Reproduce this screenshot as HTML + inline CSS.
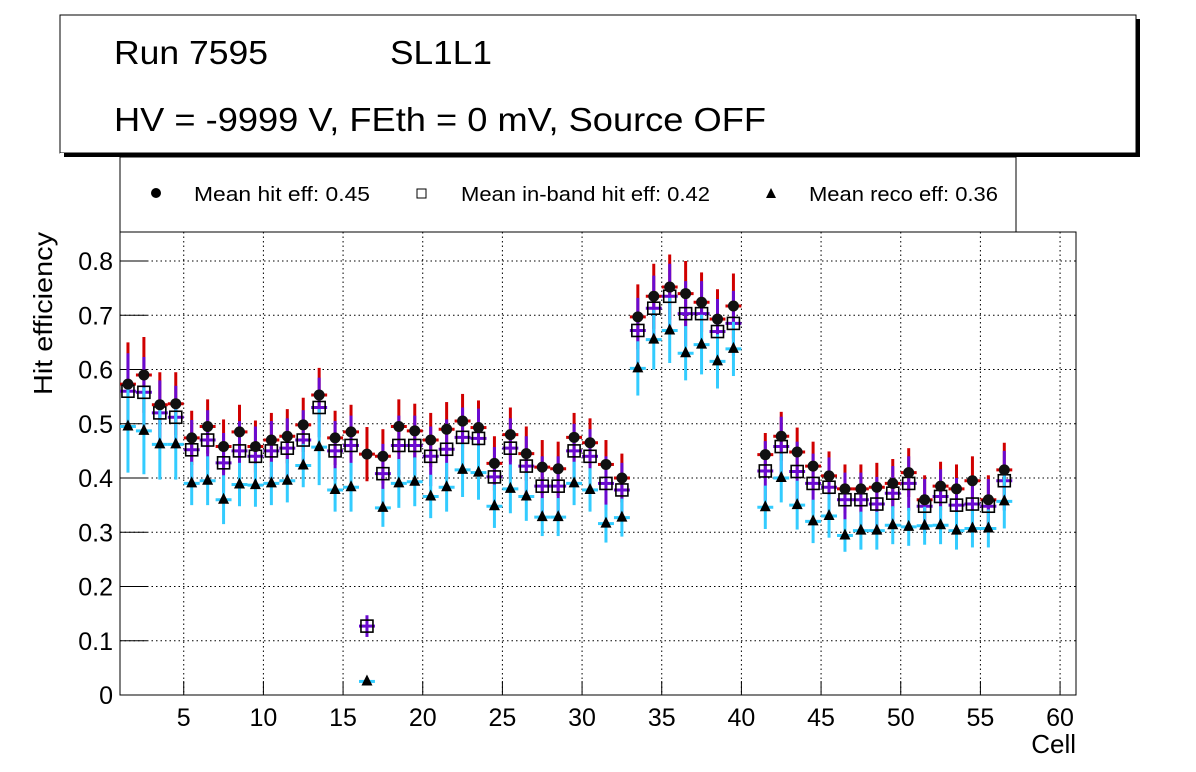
<!DOCTYPE html>
<html><head><meta charset="utf-8">
<style>
body{margin:0;background:#fff;}
svg{display:block;font-family:"Liberation Sans",sans-serif;}
</style></head>
<body>
<svg id="c" width="1196" height="772">
<rect x="64" y="19" width="1076" height="138" fill="#000"/>
<rect x="60" y="15" width="1076" height="138" fill="#fff" stroke="#000" stroke-width="1"/>
<text x="114" y="64" font-size="33" textLength="154" lengthAdjust="spacingAndGlyphs">Run 7595</text>
<text x="390" y="64" font-size="33" textLength="102" lengthAdjust="spacingAndGlyphs">SL1L1</text>
<text x="114" y="131" font-size="33" textLength="652" lengthAdjust="spacingAndGlyphs">HV = -9999 V, FEth = 0 mV, Source OFF</text>
<rect x="120" y="157" width="896" height="75" fill="#fff" stroke="#000" stroke-width="1"/>
<rect x="60" y="153" width="1076" height="4" fill="#fff"/>
<rect x="64" y="153" width="1076" height="4" fill="#000"/>
<g>
<circle cx="156" cy="193" r="5" fill="#000"/>
<text x="194" y="201" font-size="20" textLength="176" lengthAdjust="spacingAndGlyphs">Mean hit  eff: 0.45</text></g>
<g>
<rect x="417" y="189" width="9" height="9" fill="#fff" stroke="#000"/>
<text x="461" y="201" font-size="20" textLength="249" lengthAdjust="spacingAndGlyphs">Mean in-band hit eff: 0.42</text></g>
<g>
<polygon points="771,188 776,198 766,198" fill="#000"/>
<text x="809" y="201" font-size="20" textLength="189" lengthAdjust="spacingAndGlyphs">Mean reco eff: 0.36</text></g>
<g id="plot"></g>
<text x="1076" y="753" font-size="26" text-anchor="end">Cell</text>
<text transform="translate(52,232) rotate(-90)" font-size="26" text-anchor="end" textLength="163" lengthAdjust="spacingAndGlyphs">Hit efficiency</text>
</svg>
<script>
const cells=[1,2,3,4,5,6,7,8,9,10,11,12,13,14,15,16,17,18,19,20,21,22,23,24,25,26,27,28,29,30,31,32,33,34,35,36,37,38,39,41,42,43,44,45,46,47,48,49,50,51,52,53,54,55,56];
const hitEff=[.573,.59,.535,.537,.474,.495,.458,.485,.458,.47,.477,.498,.553,.474,.485,.444,.44,.495,.487,.47,.49,.505,.493,.427,.48,.445,.42,.417,.475,.465,.425,.4,.697,.735,.752,.74,.724,.693,.717,.443,.477,.448,.422,.404,.38,.38,.383,.39,.41,.36,.385,.38,.395,.36,.415];
const inbandEff=[.56,.558,.52,.512,.452,.47,.428,.45,.44,.45,.455,.47,.53,.45,.46,.127,.408,.46,.46,.44,.453,.475,.473,.402,.455,.422,.385,.385,.45,.44,.39,.378,.672,.713,.735,.703,.703,.67,.685,.413,.458,.412,.39,.383,.36,.36,.352,.372,.39,.348,.366,.35,.352,.348,.395];
const recoEff=[.495,.487,.462,.462,.39,.395,.36,.388,.387,.39,.395,.423,.457,.378,.383,.025,.345,.39,.393,.366,.383,.415,.41,.348,.38,.366,.328,.328,.39,.378,.316,.327,.602,.655,.672,.63,.646,.615,.638,.346,.4,.35,.32,.33,.294,.303,.303,.313,.31,.312,.313,.303,.307,.307,.357];
const hitErr=[.077,.07,.06,.058,.05,.05,.05,.05,.048,.05,.05,.05,.05,.05,.05,.05,.05,.05,.05,.05,.05,.05,.05,.05,.05,.05,.05,.05,.045,.045,.045,.045,.06,.06,.06,.06,.055,.055,.06,.04,.045,.045,.045,.045,.045,.045,.045,.045,.045,.045,.045,.045,.045,.045,.05];
const inbandErr=[.07,.065,.06,.058,.055,.055,.055,.055,.055,.055,.055,.055,.055,.055,.055,.02,.055,.055,.055,.055,.055,.055,.055,.055,.055,.055,.055,.055,.05,.05,.05,.05,.06,.06,.06,.06,.06,.06,.06,.055,.055,.055,.055,.055,.05,.05,.05,.05,.05,.05,.05,.05,.05,.05,.055];
const recoErr=[.085,.08,.065,.065,.04,.045,.045,.04,.04,.04,.04,.04,.07,.04,.045,.005,.035,.045,.045,.04,.045,.05,.05,.04,.045,.045,.035,.035,.04,.04,.035,.035,.05,.055,.06,.05,.055,.05,.05,.04,.045,.045,.04,.04,.03,.035,.035,.035,.035,.035,.035,.035,.035,.035,.05];
const xTicks=[5,10,15,20,25,30,35,40,45,50,55,60];
const yTicks=[0,0.1,0.2,0.3,0.4,0.5,0.6,0.7,0.8];
const X0=120,X1=1076,Y0=695,Y1=232,XMIN=1,XMAX=61,YMIN=0,YMAX=0.8535;
const sx=v=>X0+(v-XMIN)/(XMAX-XMIN)*(X1-X0);
const sy=v=>Y0-(v-YMIN)/(YMAX-YMIN)*(Y0-Y1);
const NS='http://www.w3.org/2000/svg';
const g=document.getElementById('plot');
function mk(tag,at,parent){const e=document.createElementNS(NS,tag);for(const k in at)e.setAttribute(k,at[k]);(parent||g).appendChild(e);return e;}
const frame=mk('rect',{x:X0,y:Y1,width:X1-X0,height:Y0-Y1,fill:'#fff',stroke:'#000','stroke-width':1});


xTicks.forEach(t=>{
  const l=mk('line',{x1:sx(t),x2:sx(t),y1:Y1,y2:Y0,stroke:'#000','stroke-dasharray':'1.5,3'});
  
  
  mk('line',{x1:sx(t),x2:sx(t),y1:Y0,y2:Y0-14,stroke:'#000'});
  const tx=mk('text',{x:sx(t),y:Y0+31,'font-size':25,'text-anchor':'middle'});
  tx.textContent=t;
  
  
});
yTicks.forEach(t=>{
  if(t>0){const l=mk('line',{x1:X0,x2:X1,y1:sy(t),y2:sy(t),stroke:'#000','stroke-dasharray':'1.5,3'});
  
  }
  mk('line',{x1:X0,x2:X0+27,y1:sy(t),y2:sy(t),stroke:'#000'});
  const tx=mk('text',{x:X0-7,y:sy(t)+9,'font-size':25,'text-anchor':'end'});
  tx.textContent=String(t);
  
  
});
function errs(vals,err,color,name){
  const gg=mk('g',{});
  
  
  cells.forEach((c,i)=>{
    const x=sx(c+0.5);
    mk('line',{x1:x,x2:x,y1:sy(vals[i]-err[i]),y2:sy(vals[i]+err[i]),stroke:color,'stroke-width':3},gg);
    mk('line',{x1:sx(c),x2:sx(c+1),y1:sy(vals[i]),y2:sy(vals[i]),stroke:color,'stroke-width':3},gg);
  });
}
errs(hitEff,hitErr,'#d00000','hit-error-bars');
errs(inbandEff,inbandErr,'#6a0ad0','inband-error-bars');
errs(recoEff,recoErr,'#33ccff','reco-error-bars');
cells.forEach((c,i)=>{
  const x=sx(c+0.5);
  const t=mk('polygon',{points:`${x},${sy(recoEff[i])-7} ${x+5.5},${sy(recoEff[i])+4} ${x-5.5},${sy(recoEff[i])+4}`,fill:'#000'});
  
  
  const s=mk('rect',{x:x-6,y:sy(inbandEff[i])-6,width:12,height:12,fill:'none',stroke:'#000','stroke-width':1.6});
  
  
  const p=mk('circle',{cx:x,cy:sy(hitEff[i]),r:5.5,fill:'#111'});
  
  
});
</script>
</body></html>
